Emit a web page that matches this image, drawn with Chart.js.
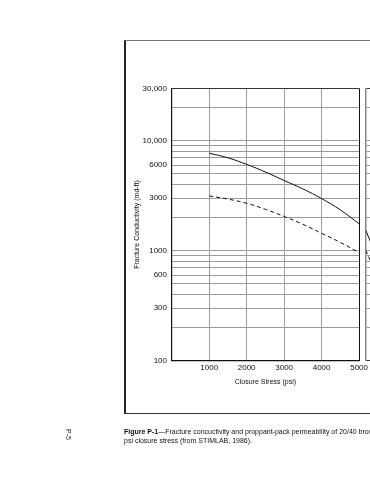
<!DOCTYPE html>
<html>
<head>
<meta charset="utf-8">
<script src="https://cdn.jsdelivr.net/npm/chart.js@4.4.1/dist/chart.umd.min.js"></script>
<style>
html, body { margin: 0; padding: 0; width: 370px; height: 480px; overflow: hidden; background: #fff; font-family: "Liberation Sans", Arial, sans-serif; }
#frame { position: absolute; left: 124px; top: 40px; width: 300px; height: 372px; border-left: 2px solid #222; border-top: 1px solid #777; border-bottom: 1px solid #333; }
#main { position: absolute; left: 0; top: 0; }
#side { position: absolute; left: 300px; top: 0; }
.cap { position: absolute; left: 124px; top: 427px; font-size: 7px; line-height: 9px; white-space: nowrap; color: #111; }
.page { position: absolute; left: 63px; top: 431px; transform: rotate(90deg); font-size: 7px; color: #222; }
</style>
</head>
<body>
<div id="frame"></div>
<canvas id="main" width="370" height="480"></canvas>
<canvas id="side" width="300" height="480"></canvas>
<div class="cap"><b>Figure P-1</b>—Fracture concuctivity and proppant-pack permeability of 20/40 brown sand<br>psi closure stress (from STIMLAB, 1986).</div>
<div class="page">P-5</div>
<script>
// data
const stress = [1000, 1500, 2000, 2500, 3000, 3500, 4000, 4500, 5000];
const conductivitySolid = [7700, 7000, 6100, 5200, 4350, 3650, 2980, 2350, 1760];
const conductivityDashed = [3150, 2950, 2700, 2380, 2050, 1740, 1440, 1190, 960];

// the neighbouring panel, only its left edge shows
const sideStress = [0, 250];
const sideSolid = [1540, 850];
const sideDashed = [1010, 580];

const yGridValues = [100, 200, 300, 400, 500, 600, 700, 800, 900,
    1000, 2000, 3000, 4000, 5000, 6000, 7000, 8000, 9000, 10000, 20000, 30000];
const yTickValues = [100, 300, 600, 1000, 3000, 6000, 10000, 30000];
const yTickLabels = ['100', '300', '600', '1000', '3000', '6000', '10,000', '30,000'];

const fam = '"Liberation Sans", Arial, sans-serif';

function hGrid(c) {
    const v = c.tick && c.tick.value;
    if (v === 30000) return '#333';
    return '#9a9a9a';
}

const mainChart = new Chart(document.getElementById('main'), {
    type: 'line',
    data: {
        datasets: [{
            data: stress.map((x, i) => ({x: x, y: conductivitySolid[i]})),
            borderColor: '#111',
            borderWidth: 1,
            pointRadius: 0,
            tension: 0.4
        }, {
            data: stress.map((x, i) => ({x: x, y: conductivityDashed[i]})),
            borderColor: '#111',
            borderWidth: 1,
            borderDash: [4, 3],
            pointRadius: 0,
            tension: 0.4
        }]
    },
    options: {
        responsive: false,
        animation: false,
        layout: {autoPadding: false, padding: {left: 127.7, top: 88.3, right: 9.3, bottom: 79.3}},
        plugins: {legend: {display: false}, tooltip: {enabled: false}},
        scales: {
            x: {
                type: 'linear', min: 0, max: 5000,
                ticks: {stepSize: 1000, autoSkip: false, maxRotation: 0, padding: 2, color: '#111',
                    font: {family: fam, size: 8},
                    callback: v => v === 0 ? '' : String(v)},
                grid: {drawTicks: false, lineWidth: 1, color: c => c.tick && c.tick.value === 5000 ? '#111' : '#a0a0a0'},
                border: {color: '#111', width: 1.2},
                title: {display: true, text: 'Closure Stress (psi)', color: '#111',
                    font: {family: fam, size: 7}, padding: {top: 0, bottom: 14}},
                afterFit: s => { s.height = 40; }
            },
            y: {
                type: 'logarithmic', min: 100, max: 30000,
                afterBuildTicks: s => { s.ticks = yGridValues.map(v => ({value: v})); },
                ticks: {autoSkip: false, padding: 4.7, color: '#111', font: {family: fam, size: 8},
                    callback: v => {
                        const i = yTickValues.indexOf(v);
                        return i >= 0 ? yTickLabels[i] : '';
                    }},
                grid: {drawTicks: false, lineWidth: 1, color: hGrid},
                border: {color: '#111', width: 1.2},
                title: {display: true, text: 'Fracture Conductivity (md-ft)', color: '#111',
                    font: {family: fam, size: 7}, padding: {top: 5.5, bottom: 0}},
                afterFit: s => { s.width = 44; }
            }
        }
    }
});

const sideChart = new Chart(document.getElementById('side'), {
    type: 'line',
    data: {
        datasets: [{
            data: sideStress.map((x, i) => ({x: x, y: sideSolid[i]})),
            borderColor: '#111', borderWidth: 1, pointRadius: 0
        }, {
            data: sideStress.map((x, i) => ({x: x, y: sideDashed[i]})),
            borderColor: '#111', borderWidth: 1, borderDash: [4, 3], pointRadius: 0
        }]
    },
    options: {
        responsive: false,
        animation: false,
        layout: {autoPadding: false, padding: {left: 65.7, top: 88.3, right: 0, bottom: 79.3}},
        plugins: {legend: {display: false}, tooltip: {enabled: false}},
        scales: {
            x: {
                type: 'linear', min: 0, max: 5000,
                ticks: {display: false},
                grid: {display: false},
                border: {color: '#333', width: 1},
                afterFit: s => { s.height = 40; }
            },
            y: {
                type: 'logarithmic', min: 100, max: 30000,
                afterBuildTicks: s => { s.ticks = yGridValues.map(v => ({value: v})); },
                ticks: {display: false},
                grid: {drawTicks: false, lineWidth: 1, color: hGrid},
                border: {color: '#888', width: 1.5},
                afterFit: s => { s.width = 0; }
            }
        }
    }
});
</script>
</body>
</html>
